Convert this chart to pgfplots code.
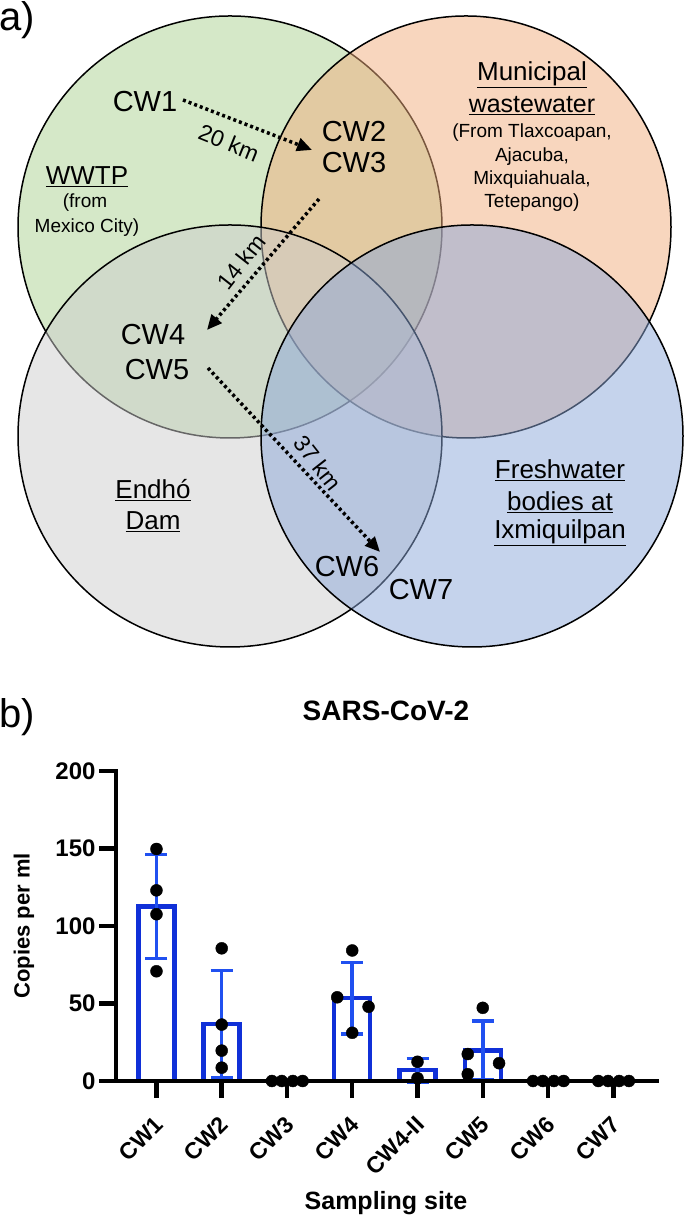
\documentclass[border=0pt]{standalone}
\usepackage{pgfplots}
\pgfplotsset{compat=1.18}
\usepackage{fontspec}
\setmainfont{Liberation Sans}
\usetikzlibrary{arrows.meta}
\definecolor{cgreen}{RGB}{171,209,145}
\definecolor{corange}{RGB}{241,173,125}
\definecolor{cgrey}{RGB}{205,205,205}
\definecolor{cblue}{RGB}{139,167,217}
\definecolor{barblue}{RGB}{16,48,216}
\definecolor{errblue}{RGB}{32,80,240}
\pgfplotstableread{
x y
0 112.5
1 36.8
2 0
3 53.4
4 7.0
5 19.6
6 0
7 0
}\meantable
\pgfplotstableread{
x y e
0 112.5 33.5
1 36.8 34.5
3 53.4 23.2
4 7.0 7.6
5 19.6 19.0
}\errtable
\pgfplotstableread{
x y
0 149.7
0 123.0
0 107.6
0 70.8
1 85.6
1 36.4
1 19.6
1 8.6
1.77 0
1.92 0
2.09 0
2.24 0
2.77 54.0
3 84.2
3.25 47.9
3 31.1
4 12.4
4 1.8
4.77 17.4
4.77 4.4
5 47.2
5.25 11.5
5.77 0
5.92 0
6.09 0
6.24 0
6.77 0
6.92 0
7.09 0
7.24 0
}\pointtable
\newcommand{\fs}[1]{\fontsize{#1}{#1}\selectfont}
\begin{document}
\begin{tikzpicture}
\useasboundingbox (0,0) rectangle (685pt,1217pt);
\begin{axis}[at={(0pt,0pt)}, anchor=origin, x=1pt, y=1pt, xmin=0, xmax=685, ymin=0, ymax=1217,
  hide axis, clip=false, scale only axis]
\draw[fill=cgreen, fill opacity=0.5, line width=1.5pt] (axis cs:230,990) ellipse [x radius=212pt, y radius=211pt];
\draw[fill=corange, fill opacity=0.5, line width=1.5pt] (axis cs:466,990) ellipse [x radius=205pt, y radius=211pt];
\draw[fill=cgrey, fill opacity=0.5, line width=1.5pt] (axis cs:230,781) ellipse [x radius=212pt, y radius=211pt];
\draw[fill=cblue, fill opacity=0.5, line width=1.5pt] (axis cs:472,781) ellipse [x radius=211pt, y radius=211pt];
% arrows
\draw[line width=3.5pt, dash pattern=on 3pt off 3pt, -{Triangle[length=15pt,width=13pt]}] (axis cs:183,1117) -- (axis cs:312,1067);
\draw[line width=3.5pt, dash pattern=on 3pt off 3pt, -{Triangle[length=15pt,width=13pt]}] (axis cs:319,1018) -- (axis cs:207,887);
\draw[line width=3.5pt, dash pattern=on 3pt off 3pt, -{Triangle[length=15pt,width=13pt]}] (axis cs:208,849) -- (axis cs:380,665);
% texts
\node[font=\fs{40}] at (axis cs:17,1197) {a)};
\node[font=\fs{29}] at (axis cs:145,1115) {CW1};
\node[font=\fs{23}, rotate=-22] at (axis cs:229,1074) {20 km};
\node[font=\fs{29}] at (axis cs:354,1085) {CW2};
\node[font=\fs{29}] at (axis cs:354,1054) {CW3};
\node[font=\fs{26}] at (axis cs:532,1142) {\underline{Municipal}};
\node[font=\fs{25}] at (axis cs:532,1111) {\underline{wastewater}};
\node[font=\fs{19}] at (axis cs:532,1084) {(From Tlaxcoapan,};
\node[font=\fs{19}] at (axis cs:532,1060) {Ajacuba,};
\node[font=\fs{19}] at (axis cs:532,1037) {Mixquiahuala,};
\node[font=\fs{19}] at (axis cs:532,1014) {Tetepango)};
\node[font=\fs{26}] at (axis cs:87,1040) {\underline{WWTP}};
\node[font=\fs{19}] at (axis cs:85,1014) {(from};
\node[font=\fs{19}] at (axis cs:87,989) {Mexico City)};
\node[font=\fs{23}, rotate=52] at (axis cs:241,955) {14 km};
\node[font=\fs{29}] at (axis cs:153,882) {CW4};
\node[font=\fs{29}] at (axis cs:157,847) {CW5};
\node[font=\fs{23}, rotate=-52] at (axis cs:318,754) {37 km};
\node[font=\fs{26}] at (axis cs:153,727) {\underline{Endhó}};
\node[font=\fs{26}] at (axis cs:153,695) {\underline{Dam}};
\node[font=\fs{26}] at (axis cs:560,747) {\underline{Freshwater}};
\node[font=\fs{26}] at (axis cs:560,715) {\underline{bodies at}};
\node[font=\fs{26}] at (axis cs:560,684) {\underline{Ixmiquilpan}};
\node[font=\fs{29}] at (axis cs:347,650) {CW6};
\node[font=\fs{29}] at (axis cs:421,627) {CW7};
\node[font=\fs{40}] at (axis cs:17,500) {b)};
\end{axis}
\begin{axis}[at={(116pt,136pt)}, anchor=south west, scale only axis, width=541pt, height=310pt,
  xmin=-0.62, xmax=7.67, ymin=0, ymax=200,
  axis lines=left, axis line style={line width=4.5pt, -, line cap=rect},
  axis on top,
  tick align=outside, major tick length=17pt,
  major tick style={line width=4.5pt, black},
  xtick={0,...,7}, xticklabels={CW1,CW2,CW3,CW4,CW4-II,CW5,CW6,CW7},
  ytick={0,50,100,150,200},
  /pgf/number format/assume math mode=true,
  yticklabel style={font=\fs{24}\bfseries},
  xticklabel style={font=\fs{23}\bfseries, xshift=5pt, yshift=-20pt, rotate=45, anchor=east},
  title={SARS-CoV-2}, title style={font=\fs{28}\bfseries, at={(axis description cs:0.499,1.174)}, anchor=center},
  xlabel={Sampling site}, xlabel style={font=\fs{25}\bfseries, at={(axis description cs:0.499,-0.395)}, anchor=center},
  ylabel={Copies per ml}, ylabel style={font=\fs{22}\bfseries, at={(axis description cs:-0.17,0.5)}, anchor=center, rotate=0},
  clip=false]
\addplot[ybar, bar width=36pt, draw=barblue, line width=4.5pt, fill=white] table[x=x,y=y] {\meantable};
\addplot[draw=none, mark=none, error bars/.cd, y dir=both, y explicit,
  error bar style={draw=errblue, line width=3.5pt},
  error mark options={rotate=90, mark size=11pt, line width=3.5pt, draw=errblue}]
  table[x=x, y=y, y error=e] {\errtable};
\addplot[only marks, mark=*, mark size=6pt, black] table[x=x,y=y] {\pointtable};
\end{axis}
\end{tikzpicture}
\end{document}
